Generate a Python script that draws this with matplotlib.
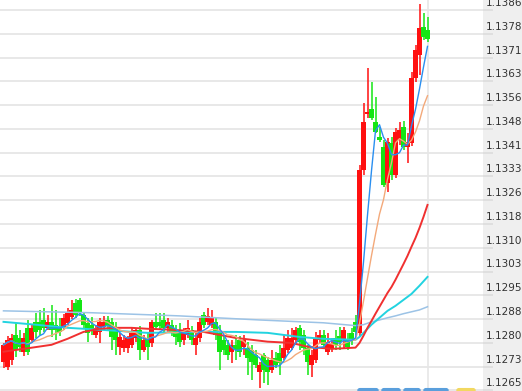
import matplotlib
matplotlib.use("Agg")
import matplotlib.pyplot as plt
import matplotlib.transforms as mtransforms
from matplotlib.patches import FancyBboxPatch
import numpy as np
import pandas as pd

# OHLC of the visible bars (EUR/USD style quotes)
opens = [1.12741, 1.12725, 1.12747, 1.12827, 1.12817, 1.12773, 1.12849, 1.12811, 1.12868, 1.12868,
         1.12874, 1.12849, 1.12868, 1.12859, 1.12849, 1.12849, 1.12865, 1.12884, 1.12928, 1.12938,
         1.12890, 1.12865, 1.12859, 1.12827, 1.12836, 1.12852, 1.12874, 1.12868, 1.12852, 1.12789,
         1.12786, 1.12786, 1.12795, 1.12817, 1.12843, 1.12779, 1.12817, 1.12801, 1.12868, 1.12868,
         1.12874, 1.12849, 1.12859, 1.12843, 1.12833, 1.12811, 1.12827, 1.12843, 1.12795, 1.12817,
         1.12890, 1.12868, 1.12859, 1.12868, 1.12833, 1.12811, 1.12795, 1.12773, 1.12795, 1.12811,
         1.12789, 1.12786, 1.12779, 1.12763, 1.12709, 1.12763, 1.12747, 1.12715, 1.12754, 1.12770,
         1.12754, 1.12779, 1.12786, 1.12811, 1.12849, 1.12827, 1.12786, 1.12732, 1.12747, 1.12811,
         1.12827, 1.12773, 1.12786, 1.12817, 1.12824, 1.12811, 1.12811, 1.12833, 1.12868, 1.12833,
         1.13351, 1.13529, 1.13545, 1.13504, 1.13456, 1.13425, 1.13310, 1.13437, 1.13336, 1.13447,
         1.13488, 1.13425, 1.13437, 1.13644, 1.13717, 1.13806, 1.13797]
highs = [1.12801, 1.12824, 1.12830, 1.12865, 1.12843, 1.12833, 1.12874, 1.12859, 1.12897, 1.12906,
         1.12913, 1.12890, 1.12922, 1.12906, 1.12881, 1.12894, 1.12913, 1.12938, 1.12941, 1.12944,
         1.12900, 1.12881, 1.12884, 1.12859, 1.12881, 1.12887, 1.12887, 1.12881, 1.12868, 1.12833,
         1.12827, 1.12824, 1.12849, 1.12849, 1.12855, 1.12827, 1.12833, 1.12874, 1.12897, 1.12897,
         1.12897, 1.12881, 1.12874, 1.12859, 1.12865, 1.12849, 1.12874, 1.12855, 1.12833, 1.12881,
         1.12900, 1.12913, 1.12906, 1.12881, 1.12859, 1.12827, 1.12811, 1.12811, 1.12827, 1.12824,
         1.12827, 1.12805, 1.12795, 1.12779, 1.12741, 1.12770, 1.12757, 1.12779, 1.12773, 1.12795,
         1.12827, 1.12843, 1.12849, 1.12852, 1.12859, 1.12843, 1.12795, 1.12779, 1.12836, 1.12843,
         1.12843, 1.12833, 1.12817, 1.12843, 1.12852, 1.12852, 1.12833, 1.12849, 1.12890, 1.13367,
         1.13564, 1.13676, 1.13631, 1.13584, 1.13488, 1.13447, 1.13453, 1.13456, 1.13485, 1.13504,
         1.13507, 1.13469, 1.13663, 1.13749, 1.13879, 1.13851, 1.13838]
lows = [1.12722, 1.12715, 1.12732, 1.12757, 1.12773, 1.12760, 1.12763, 1.12801, 1.12817, 1.12827,
        1.12836, 1.12843, 1.12820, 1.12811, 1.12824, 1.12843, 1.12859, 1.12878, 1.12881, 1.12887,
        1.12849, 1.12805, 1.12827, 1.12817, 1.12801, 1.12843, 1.12843, 1.12779, 1.12763, 1.12763,
        1.12773, 1.12770, 1.12786, 1.12805, 1.12747, 1.12773, 1.12747, 1.12789, 1.12843, 1.12843,
        1.12833, 1.12836, 1.12824, 1.12795, 1.12789, 1.12795, 1.12817, 1.12795, 1.12763, 1.12805,
        1.12849, 1.12859, 1.12849, 1.12811, 1.12715, 1.12763, 1.12747, 1.12738, 1.12747, 1.12757,
        1.12763, 1.12700, 1.12684, 1.12722, 1.12658, 1.12674, 1.12668, 1.12706, 1.12722, 1.12700,
        1.12747, 1.12770, 1.12779, 1.12795, 1.12779, 1.12763, 1.12700, 1.12693, 1.12738, 1.12801,
        1.12786, 1.12763, 1.12773, 1.12779, 1.12779, 1.12786, 1.12779, 1.12795, 1.12827, 1.12820,
        1.13336, 1.13517, 1.13510, 1.13469, 1.13440, 1.13297, 1.13281, 1.13320, 1.13326, 1.13431,
        1.13415, 1.13374, 1.13428, 1.13631, 1.13654, 1.13765, 1.13758]
closes = [1.12795, 1.12811, 1.12817, 1.12779, 1.12789, 1.12817, 1.12773, 1.12849, 1.12836, 1.12843,
          1.12849, 1.12868, 1.12843, 1.12843, 1.12836, 1.12881, 1.12897, 1.12906, 1.12890, 1.12897,
          1.12859, 1.12833, 1.12843, 1.12849, 1.12868, 1.12868, 1.12855, 1.12820, 1.12811, 1.12820,
          1.12811, 1.12817, 1.12833, 1.12843, 1.12779, 1.12811, 1.12789, 1.12868, 1.12852, 1.12855,
          1.12849, 1.12868, 1.12836, 1.12820, 1.12805, 1.12833, 1.12849, 1.12811, 1.12817, 1.12868,
          1.12859, 1.12887, 1.12881, 1.12827, 1.12773, 1.12779, 1.12763, 1.12795, 1.12779, 1.12773,
          1.12811, 1.12754, 1.12741, 1.12732, 1.12732, 1.12715, 1.12709, 1.12747, 1.12732, 1.12738,
          1.12786, 1.12817, 1.12817, 1.12843, 1.12805, 1.12786, 1.12741, 1.12763, 1.12817, 1.12827,
          1.12795, 1.12805, 1.12798, 1.12795, 1.12805, 1.12843, 1.12789, 1.12811, 1.12836, 1.13351,
          1.13504, 1.13536, 1.13517, 1.13472, 1.13447, 1.13304, 1.13440, 1.13336, 1.13472, 1.13479,
          1.13425, 1.13440, 1.13644, 1.13733, 1.13803, 1.13774, 1.13768]

# slow averages (bar index, value)
ma30_idx = [0, 5, 12, 16, 20, 24, 28, 32, 36, 42, 50, 58, 66, 72, 76, 82, 88, 89, 90, 91, 92, 93, 94,
            95, 96, 97, 98, 99, 100, 101, 102, 103, 104, 105, 106]
ma30_val = [1.12773, 1.12782, 1.12795, 1.12814, 1.12836, 1.12846, 1.12849, 1.12849, 1.12846, 1.12843,
            1.12836, 1.12817, 1.12805, 1.12801, 1.12789, 1.12782, 1.12786, 1.12801, 1.12824, 1.12849,
            1.12871, 1.12894, 1.12916, 1.12938, 1.12960, 1.12979, 1.13002, 1.13027, 1.13052, 1.13078,
            1.13107, 1.13135, 1.13167, 1.13202, 1.13240]
ma60_idx = [0, 8, 16, 24, 36, 50, 58, 66, 74, 80, 88, 89, 90, 92, 94, 96, 98, 100, 102, 104, 106]
ma60_val = [1.12868, 1.12859, 1.12849, 1.12843, 1.12833, 1.12836, 1.12836, 1.12833, 1.12820, 1.12814,
            1.12811, 1.12820, 1.12833, 1.12859, 1.12881, 1.12903, 1.12919, 1.12938, 1.12957, 1.12983,
            1.13011]
ma_long_idx = [0, 22, 44, 64, 80, 88, 90, 92, 94, 96, 98, 100, 102, 104, 106]
ma_long_val = [1.12903, 1.12897, 1.12887, 1.12874, 1.12865, 1.12856, 1.12859, 1.12868, 1.12874,
               1.12881, 1.12887, 1.12894, 1.12900, 1.12906, 1.12916]

tick_labels = ["1.1265", "1.1273", "1.1280", "1.1288", "1.1295", "1.1303", "1.1310", "1.1318",
               "1.1326", "1.1333", "1.1341", "1.1348", "1.1356", "1.1363", "1.1371", "1.1378",
               "1.1386"]

UP = "#ff1010"
DOWN = "#14e614"

o = np.array(opens)
c = np.array(closes)
h = np.array(highs)
l = np.array(lows)
x = np.arange(len(o))
up = c >= o
colors = np.where(up, UP, DOWN)

fig = plt.figure(figsize=(5.22, 3.91), dpi=100, facecolor="#efefef")
ax = fig.add_axes([0, 0, 483 / 522, 1])
ax.set_facecolor("white")

ax.vlines(x, l, h, colors=colors, linewidth=1.1, zorder=2)
body_bottom = np.minimum(o, c)
body_h = np.maximum(np.abs(c - o), 0.00003)
ax.bar(x, body_h, bottom=body_bottom, width=1.2, color=colors, linewidth=0, zorder=3)

cs = pd.Series(closes)
ma5 = cs.rolling(5, min_periods=1).mean()
ma10 = cs.rolling(10, min_periods=1).mean()

ax.plot(ma_long_idx, ma_long_val, color="#9cc3e6", linewidth=1.1, zorder=4)
ax.plot(ma60_idx, ma60_val, color="#22d3e0", linewidth=1.4, zorder=4)
ax.plot(ma30_idx, ma30_val, color="#f03030", linewidth=1.4, zorder=4)
ax.plot(x, ma10, color="#f3a97a", linewidth=1.0, zorder=5)
ax.plot(x, ma5, color="#2a8ff0", linewidth=1.0, zorder=6)

ax.set_xlim(-0.875, 119.875)
ax.set_ylim(1.12648, 1.13892)

ticks = np.linspace(1.1265, 1.1386, len(tick_labels))
ax.set_yticks(ticks, tick_labels)
ax.set_xticks([])
ax.yaxis.tick_right()
ax.tick_params(axis="y", direction="out", length=7.5, width=1.2, color="#dcdcdc",
               pad=-5.3, labelsize=7.5, labelcolor="#333333")
ax.grid(axis="y", color="#e6e6e6", linewidth=1.3, zorder=0)
ax.axvline(len(o) - 1, color="#e6e6e6", linewidth=1.2, zorder=0)
ax.set_axisbelow(True)
for s in ax.spines.values():
    s.set_visible(False)

shift = mtransforms.ScaledTranslation(0, 1.5 / 72, fig.dpi_scale_trans)
for lbl in ax.get_yticklabels():
    lbl.set_verticalalignment("bottom")
    lbl.set_transform(lbl.get_transform() + shift)

# bits of the toolbar peeking in at the bottom edge
for x0, w, col in [(358, 20, "#5a9fdc"), (382, 18, "#5a9fdc"), (404, 16, "#5a9fdc"),
                   (424, 24, "#5a9fdc"), (457, 18, "#f2d860")]:
    fig.patches.append(FancyBboxPatch((x0 / 522, -0.01), w / 522, 0.016,
                                      boxstyle="round,pad=0,rounding_size=0.004",
                                      transform=fig.transFigure, color=col, zorder=10))

fig.savefig("out.png", dpi=100, facecolor=fig.get_facecolor())
